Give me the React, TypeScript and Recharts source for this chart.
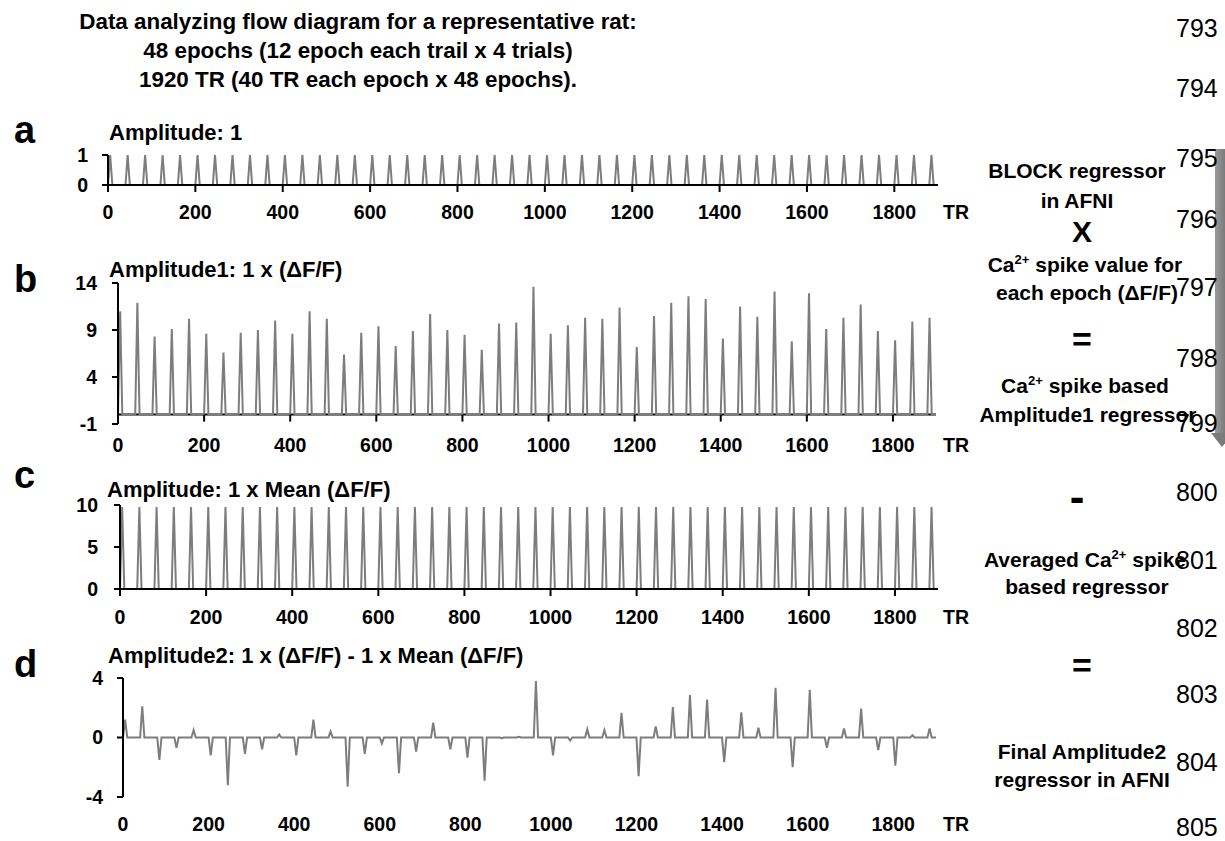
import React from 'react';
import { LineChart, Line, XAxis, YAxis, ReferenceLine } from 'recharts';

const FONT = "'Liberation Sans', Arial, Helvetica, sans-serif";

// ---------- data ----------
const TR_TICKS = [0, 200, 400, 600, 800, 1000, 1200, 1400, 1600, 1800];
const TR_DOMAIN: [number, number] = [0, 1900];
const EPOCH_LENGTH_TR = 40;
const SPIKE_PEAK_TR = 5;
const SPIKE_END_TR = 10;

// a: BLOCK regressor, amplitude 1 per epoch (48 epochs)
const AMPLITUDE_BLOCK = [
  1, 1, 1, 1, 1, 1, 1, 1, 1, 1, 1, 1,
  1, 1, 1, 1, 1, 1, 1, 1, 1, 1, 1, 1,
  1, 1, 1, 1, 1, 1, 1, 1, 1, 1, 1, 1,
  1, 1, 1, 1, 1, 1, 1, 1, 1, 1, 1, 1,
];

// b: Amplitude1 = 1 x (dF/F) per epoch
const AMPLITUDE1 = [
  11.0, 11.9, 8.3, 9.1, 10.2, 8.6, 6.6, 8.7, 9.0, 10.0, 8.6, 11.0,
  10.2, 6.4, 8.7, 9.4, 7.3, 8.9, 10.7, 9.0, 8.5, 6.9, 9.7, 9.8,
  13.6, 8.6, 9.5, 10.3, 10.2, 11.4, 7.2, 10.5, 11.9, 12.6, 12.3, 8.1,
  11.5, 10.4, 13.1, 7.8, 12.9, 9.1, 10.3, 11.7, 8.9, 7.9, 9.9, 10.3,
];

// c: 1 x Mean(dF/F) per epoch
const AMPLITUDE_MEAN = [
  9.75, 9.75, 9.75, 9.75, 9.75, 9.75, 9.75, 9.75, 9.75, 9.75, 9.75, 9.75,
  9.75, 9.75, 9.75, 9.75, 9.75, 9.75, 9.75, 9.75, 9.75, 9.75, 9.75, 9.75,
  9.75, 9.75, 9.75, 9.75, 9.75, 9.75, 9.75, 9.75, 9.75, 9.75, 9.75, 9.75,
  9.75, 9.75, 9.75, 9.75, 9.75, 9.75, 9.75, 9.75, 9.75, 9.75, 9.75, 9.75,
];

// d: Amplitude2 = 1 x (dF/F) - 1 x Mean(dF/F)
const AMPLITUDE2 = [
  1.2, 2.1, -1.5, -0.7, 0.5, -1.2, -3.2, -1.1, -0.8, 0.2, -1.2, 1.2,
  0.4, -3.3, -1.1, -0.4, -2.4, -0.95, 1.0, -0.8, -1.35, -2.9, -0.05, 0.05,
  3.8, -1.2, -0.2, 0.55, 0.5, 1.65, -2.6, 0.75, 2.05, 2.85, 2.55, -1.65,
  1.7, 0.65, 3.35, -2.0, 3.2, -0.7, 0.6, 1.95, -0.85, -1.9, 0.15, 0.6,
];

const Y_TICKS_A = [0, 1];
const Y_TICKS_B = [-1, 4, 9, 14];
const Y_TICKS_C = [0, 5, 10];
const Y_TICKS_D = [-4, 0, 4];

function buildTrace(values: number[]) {
  const rows: { tr: number; value: number }[] = [];
  values.forEach((v, e) => {
    const start = e * EPOCH_LENGTH_TR;
    rows.push({ tr: start, value: 0 });
    rows.push({ tr: start + SPIKE_PEAK_TR, value: v });
    rows.push({ tr: start + SPIKE_END_TR, value: 0 });
  });
  rows.push({ tr: TR_DOMAIN[1], value: 0 });
  return rows;
}

// ---------- styles ----------
const LINE_COLOR = '#7d7d7d';
const TICK_FONT = { fontFamily: FONT, fontWeight: 700, fontSize: 19.5, fill: '#000' };

type XMode = 'bottom' | 'zero' | 'none';

function XTick(props: any) {
  const { x, y, payload, mode, labelDy, zeroOffset } = props;
  let tick = null;
  if (mode === 'bottom') {
    tick = <line x1={x} x2={x} y1={y} y2={y + 7} stroke="#000" strokeWidth={2} />;
  } else if (mode === 'zero') {
    tick = <line x1={x} x2={x} y1={y - zeroOffset} y2={y - zeroOffset + 7} stroke="#000" strokeWidth={2} />;
  }
  return (
    <g>
      {tick}
      <text x={x} y={y + labelDy} textAnchor="middle" style={TICK_FONT as any} fontFamily={FONT} fontWeight={700} fontSize={19.5} fill="#000">
        {payload.value}
      </text>
    </g>
  );
}

interface PanelProps {
  values: number[];
  plotLeft: number;
  plotRight: number;
  plotTop: number;
  plotBottom: number;
  yDomain: [number, number];
  yTicks: number[];
  yTickMargin: number;
  xMode: XMode;
  labelDy: number;
}

function Panel(p: PanelProps) {
  const marginTop = 10;
  const xAxisH = 50;
  const plotH = p.plotBottom - p.plotTop;
  const height = marginTop + plotH + xAxisH;
  const width = p.plotRight + 10;
  const zeroOffset = (plotH * (0 - p.yDomain[0])) / (p.yDomain[1] - p.yDomain[0]);
  const data = buildTrace(p.values);
  return (
    <div style={{ position: 'absolute', left: 0, top: p.plotTop - marginTop }}>
      <LineChart width={width} height={height} data={data} margin={{ top: marginTop, right: 10, bottom: 0, left: 0 }}>
        <XAxis
          dataKey="tr"
          type="number"
          domain={TR_DOMAIN}
          ticks={TR_TICKS}
          interval={0}
          axisLine={p.xMode === 'bottom' ? { stroke: '#000', strokeWidth: 2 } : false}
          tickLine={false}
          tickSize={0}
          tickMargin={0}
          height={xAxisH}
          tick={(tp: any) => <XTick {...tp} mode={p.xMode} labelDy={p.labelDy} zeroOffset={zeroOffset} />}
        />
        <YAxis
          type="number"
          width={p.plotLeft}
          domain={p.yDomain}
          ticks={p.yTicks}
          interval={0}
          allowDataOverflow
          axisLine={{ stroke: '#000', strokeWidth: 2 }}
          tickLine={{ stroke: '#000', strokeWidth: 2 }}
          tickSize={6}
          tickMargin={p.yTickMargin}
          tick={TICK_FONT}
        />
        {p.xMode === 'zero' && <ReferenceLine y={0} stroke="#000" strokeWidth={2} />}
        <Line
          dataKey="value"
          type="linear"
          stroke={LINE_COLOR}
          strokeWidth={2}
          dot={false}
          activeDot={false}
          isAnimationActive={false}
        />
      </LineChart>
    </div>
  );
}

const boldText = { fontFamily: FONT, fontWeight: 700, fill: '#000' } as const;
const lineNumStyle = { fontFamily: FONT, fontWeight: 400, fontSize: 25, fill: '#000' } as const;

function Ca({ size }: { size: number }) {
  return (
    <>
      Ca<tspan fontSize={size * 0.62} dy={-size * 0.38}>2+</tspan>
      <tspan dy={size * 0.38}> </tspan>
    </>
  );
}

export default function App() {
  const lineNumbers: [string, number][] = [
    ['793', 37], ['794', 97], ['795', 167], ['796', 228], ['797', 296], ['798', 367],
    ['799', 432], ['800', 501], ['801', 569], ['802', 637], ['803', 703], ['804', 771], ['805', 836],
  ];
  const rs = 21;
  const cx = 1085;
  return (
    <div style={{ position: 'absolute', left: 0, top: 0, width: 1225, height: 841, overflow: 'hidden', background: '#fff' }}>
      <Panel values={AMPLITUDE_BLOCK} plotLeft={108} plotRight={938} plotTop={155} plotBottom={185}
        yDomain={[0, 1]} yTicks={Y_TICKS_A} yTickMargin={14} xMode="bottom" labelDy={34} />
      <Panel values={AMPLITUDE1} plotLeft={118} plotRight={936} plotTop={283} plotBottom={424}
        yDomain={[-1, 14]} yTicks={Y_TICKS_B} yTickMargin={15} xMode="zero" labelDy={28} />
      <Panel values={AMPLITUDE_MEAN} plotLeft={120} plotRight={938} plotTop={505} plotBottom={589}
        yDomain={[0, 10]} yTicks={Y_TICKS_C} yTickMargin={16} xMode="bottom" labelDy={35} />
      <Panel values={AMPLITUDE2} plotLeft={123} plotRight={936} plotTop={678} plotBottom={797}
        yDomain={[-4, 4]} yTicks={Y_TICKS_D} yTickMargin={14} xMode="none" labelDy={34} />

      <svg width={1225} height={841} style={{ position: 'absolute', left: 0, top: 0, pointerEvents: 'none' }}>
        {/* header */}
        <text x={358} y={29} textAnchor="middle" {...boldText} fontSize={22.4}>Data analyzing flow diagram for a representative rat:</text>
        <text x={358} y={58} textAnchor="middle" {...boldText} fontSize={22.4}>48 epochs (12 epoch each trail x 4 trials)</text>
        <text x={358} y={87} textAnchor="middle" {...boldText} fontSize={22.4}>1920 TR (40 TR each epoch x 48 epochs).</text>

        {/* panel letters */}
        <text x={14} y={143} {...boldText} fontSize={38}>a</text>
        <text x={14} y={292} {...boldText} fontSize={38}>b</text>
        <text x={14} y={488} {...boldText} fontSize={38}>c</text>
        <text x={14} y={677} {...boldText} fontSize={38}>d</text>

        {/* panel titles */}
        <text x={109} y={140} {...boldText} fontSize={22}>Amplitude: 1</text>
        <text x={109} y={277} {...boldText} fontSize={22}>Amplitude1: 1 x (ΔF/F)</text>
        <text x={107} y={497} {...boldText} fontSize={22}>Amplitude: 1 x Mean (ΔF/F)</text>
        <text x={108} y={663} {...boldText} fontSize={22}>Amplitude2: 1 x (ΔF/F) - 1 x Mean (ΔF/F)</text>

        {/* TR axis titles */}
        <text x={943} y={219} {...boldText} fontSize={19.5}>TR</text>
        <text x={943} y={452} {...boldText} fontSize={19.5}>TR</text>
        <text x={943} y={624} {...boldText} fontSize={19.5}>TR</text>
        <text x={943} y={831} {...boldText} fontSize={19.5}>TR</text>

        {/* right-hand flow text */}
        <text x={cx - 8} y={178} textAnchor="middle" {...boldText} fontSize={rs}>BLOCK regressor</text>
        <text x={cx - 8} y={208} textAnchor="middle" {...boldText} fontSize={rs}>in AFNI</text>
        <text x={1082} y={242} textAnchor="middle" {...boldText} fontSize={30}>X</text>
        <text x={cx} y={272} textAnchor="middle" {...boldText} fontSize={rs}><Ca size={rs} />spike value for</text>
        <text x={cx + 2} y={300} textAnchor="middle" {...boldText} fontSize={rs}>each epoch (ΔF/F)</text>
        <text x={1082} y={351} textAnchor="middle" {...boldText} fontSize={34}>=</text>
        <text x={cx} y={393} textAnchor="middle" {...boldText} fontSize={rs}><Ca size={rs} />spike based</text>
        <text x={cx + 3} y={422} textAnchor="middle" {...boldText} fontSize={rs}>Amplitude1 regressor</text>
        <text x={1077} y={512} textAnchor="middle" {...boldText} fontSize={44}>-</text>
        <text x={cx} y={567} textAnchor="middle" {...boldText} fontSize={rs}>Averaged <Ca size={rs} />spike</text>
        <text x={cx + 2} y={594} textAnchor="middle" {...boldText} fontSize={rs}>based regressor</text>
        <text x={1082} y={677} textAnchor="middle" {...boldText} fontSize={34}>=</text>
        <text x={cx - 3} y={759} textAnchor="middle" {...boldText} fontSize={rs}>Final Amplitude2</text>
        <text x={cx - 3} y={787} textAnchor="middle" {...boldText} fontSize={rs}>regressor in AFNI</text>

        {/* gray arrow */}
        <defs>
          <linearGradient id="arrowGrad" x1="0" x2="1" y1="0" y2="0">
            <stop offset="0" stopColor="#9a9a9a" />
            <stop offset="1" stopColor="#6e6e6e" />
          </linearGradient>
        </defs>
        <rect x={1215} y={149} width={14} height={284} fill="url(#arrowGrad)" />
        <polygon points="1211,433 1233,433 1222,447" fill="#7a7a7a" />

        {/* line numbers */}
        {lineNumbers.map(([n, y]) => (
          <text key={n} x={1176} y={y} {...lineNumStyle}>{n}</text>
        ))}
      </svg>
    </div>
  );
}
